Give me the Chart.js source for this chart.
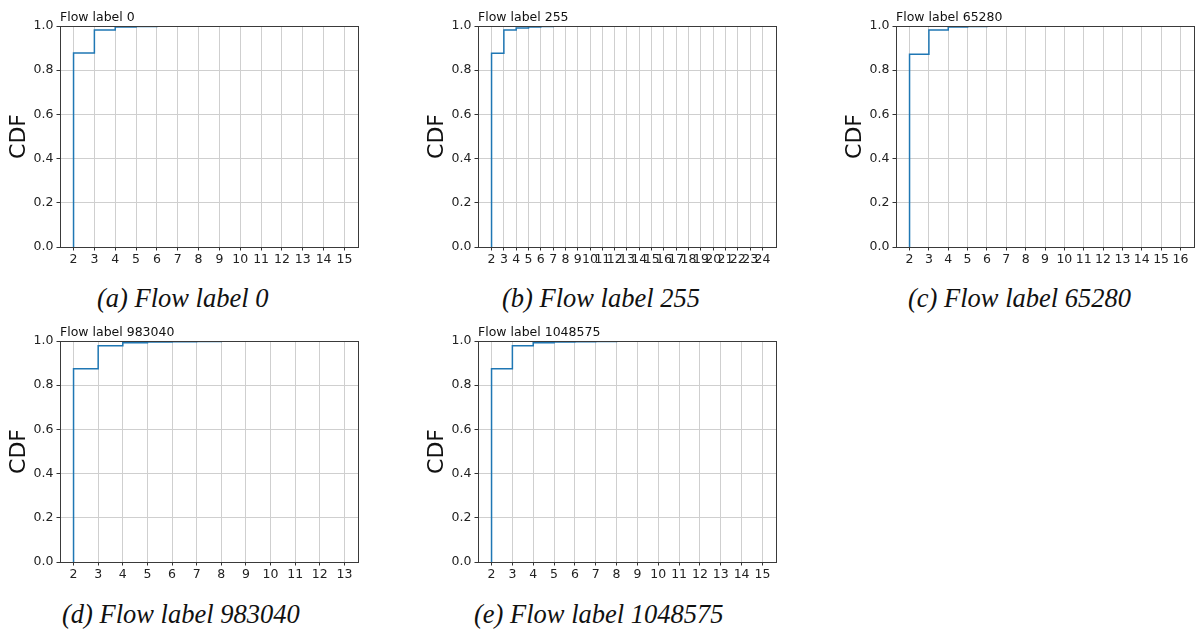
<!DOCTYPE html>
<html lang="en">

<head>
    <meta charset="UTF-8">
    <title>Flow label CDF</title>
    <script src="https://cdn.jsdelivr.net/npm/chart.js"></script>
    <style>
        body {
            margin: 0;
            width: 1195px;
            height: 633px;
            background: #fff;
            position: relative;
            overflow: hidden;
        }

        canvas {
            position: absolute;
        }

        .caption {
            position: absolute;
            font-family: 'Liberation Serif', serif;
            font-style: italic;
            font-size: 26.5px;
            line-height: 1;
            white-space: nowrap;
            color: #111;
        }
    </style>
</head>

<body>
    <canvas id="chartA" width="362" height="281" style="left:0px;top:0px"></canvas>
    <canvas id="chartB" width="362" height="281" style="left:418px;top:0px"></canvas>
    <canvas id="chartC" width="362" height="281" style="left:836px;top:0px"></canvas>
    <canvas id="chartD" width="362" height="281" style="left:0px;top:315px"></canvas>
    <canvas id="chartE" width="362" height="281" style="left:418px;top:315px"></canvas>

    <div class="caption" style="left:97px;top:285px">(a) Flow label 0</div>
    <div class="caption" style="left:502px;top:285px">(b) Flow label 255</div>
    <div class="caption" style="left:908px;top:285px">(c) Flow label 65280</div>
    <div class="caption" style="left:62px;top:601px">(d) Flow label 983040</div>
    <div class="caption" style="left:474px;top:601px">(e) Flow label 1048575</div>

    <script>
        // bin edges (x ticks) and cumulative fraction per bin for each flow label
        const ticksA = [2, 3, 4, 5, 6, 7, 8, 9, 10, 11, 12, 13, 14, 15];
        const cdfA = [0.878, 0.982, 0.995, 0.998, 0.999, 1, 1, 1, 1, 1, 1, 1, 1];

        const ticksB = [2, 3, 4, 5, 6, 7, 8, 9, 10, 11, 12, 13, 14, 15, 16, 17, 18, 19, 20, 21, 22, 23, 24];
        const cdfB = [0.877, 0.982, 0.991, 0.996, 0.998, 0.999, 0.9993, 0.9995, 0.9997, 0.9998,
            1, 1, 1, 1, 1, 1, 1, 1, 1, 1, 1, 1];

        const ticksC = [2, 3, 4, 5, 6, 7, 8, 9, 10, 11, 12, 13, 14, 15, 16];
        const cdfC = [0.872, 0.982, 0.996, 0.998, 0.999, 0.9993, 0.9996, 1, 1, 1, 1, 1, 1, 1];

        const ticksD = [2, 3, 4, 5, 6, 7, 8, 9, 10, 11, 12, 13];
        const cdfD = [0.874, 0.979, 0.992, 0.995, 0.997, 0.998, 0.999, 1, 1, 1, 1];

        const ticksE = [2, 3, 4, 5, 6, 7, 8, 9, 10, 11, 12, 13, 14, 15];
        const cdfE = [0.875, 0.978, 0.992, 0.995, 0.997, 0.998, 0.999, 1, 1, 1, 1, 1, 1];

        const titles = ['Flow label 0', 'Flow label 255', 'Flow label 65280', 'Flow label 983040', 'Flow label 1048575'];

        Chart.defaults.font.family = '"DejaVu Sans", sans-serif';
        Chart.defaults.color = '#222';

        // small title above the plot area, left aligned
        const panelTitle = {
            id: 'panelTitle',
            afterDraw(chart, args, opts) {
                const { ctx, chartArea } = chart;
                ctx.save();
                ctx.font = '12.5px "DejaVu Sans"';
                ctx.fillStyle = '#111';
                ctx.textAlign = 'left';
                ctx.textBaseline = 'alphabetic';
                ctx.fillText(opts.text, chartArea.left, chartArea.top - 5);
                ctx.restore();
            }
        };

        // axes frame drawn on top of the line
        const frame = {
            id: 'frame',
            afterDatasetsDraw(chart) {
                const { ctx, chartArea: a } = chart;
                ctx.save();
                ctx.strokeStyle = '#3a3a3a';
                ctx.lineWidth = 1;
                ctx.strokeRect(Math.round(a.left) + 0.5, Math.round(a.top) + 0.5,
                    Math.round(a.right - a.left), Math.round(a.bottom - a.top));
                ctx.restore();
            }
        };

        function drawCdf(id, title, ticks, cdf) {
            const first = ticks[0];
            const last = ticks[ticks.length - 1];
            const margin = (last - first) * 0.05;

            // step outline: rise at the first edge, then hold each bin's value
            const points = [{ x: first, y: 0 }];
            cdf.forEach((v, i) => points.push({ x: ticks[i], y: v }));
            points.push({ x: last, y: cdf[cdf.length - 1] });

            const grid = {
                color: '#cfcfcf',
                lineWidth: 1,
                tickColor: '#333',
                tickLength: 3.5,
                tickWidth: 1
            };

            return new Chart(document.getElementById(id), {
                type: 'line',
                data: {
                    datasets: [{
                        data: points,
                        stepped: 'before',
                        borderColor: '#1f77b4',
                        borderWidth: 1.5,
                        pointRadius: 0,
                        fill: false
                    }]
                },
                options: {
                    responsive: false,
                    animation: false,
                    layout: { padding: { top: 26, right: 4, left: 0, bottom: 0 } },
                    plugins: {
                        legend: { display: false },
                        tooltip: { enabled: false },
                        panelTitle: { text: title }
                    },
                    scales: {
                        x: {
                            type: 'linear',
                            min: first - margin,
                            max: last + margin,
                            afterBuildTicks: s => { s.ticks = ticks.map(v => ({ value: v })); },
                            afterFit: s => { s.height = 34; s.paddingLeft = 0; s.paddingRight = 0; },
                            grid: grid,
                            border: { display: false },
                            ticks: { padding: 2, font: { size: 12.5 }, maxRotation: 0, minRotation: 0, autoSkip: false }
                        },
                        y: {
                            min: 0,
                            max: 1,
                            afterFit: s => { s.width = 60; s.paddingTop = 0; s.paddingBottom = 0; },
                            grid: grid,
                            border: { display: false },
                            ticks: { stepSize: 0.2, padding: 3, font: { size: 12.5 }, callback: v => v.toFixed(1) },
                            title: {
                                display: true,
                                text: 'CDF',
                                color: '#111',
                                font: { size: 22 },
                                padding: { top: 6, bottom: 0 }
                            }
                        }
                    }
                },
                plugins: [panelTitle, frame]
            });
        }

        drawCdf('chartA', titles[0], ticksA, cdfA);
        drawCdf('chartB', titles[1], ticksB, cdfB);
        drawCdf('chartC', titles[2], ticksC, cdfC);
        drawCdf('chartD', titles[3], ticksD, cdfD);
        drawCdf('chartE', titles[4], ticksE, cdfE);
    </script>
</body>

</html>
